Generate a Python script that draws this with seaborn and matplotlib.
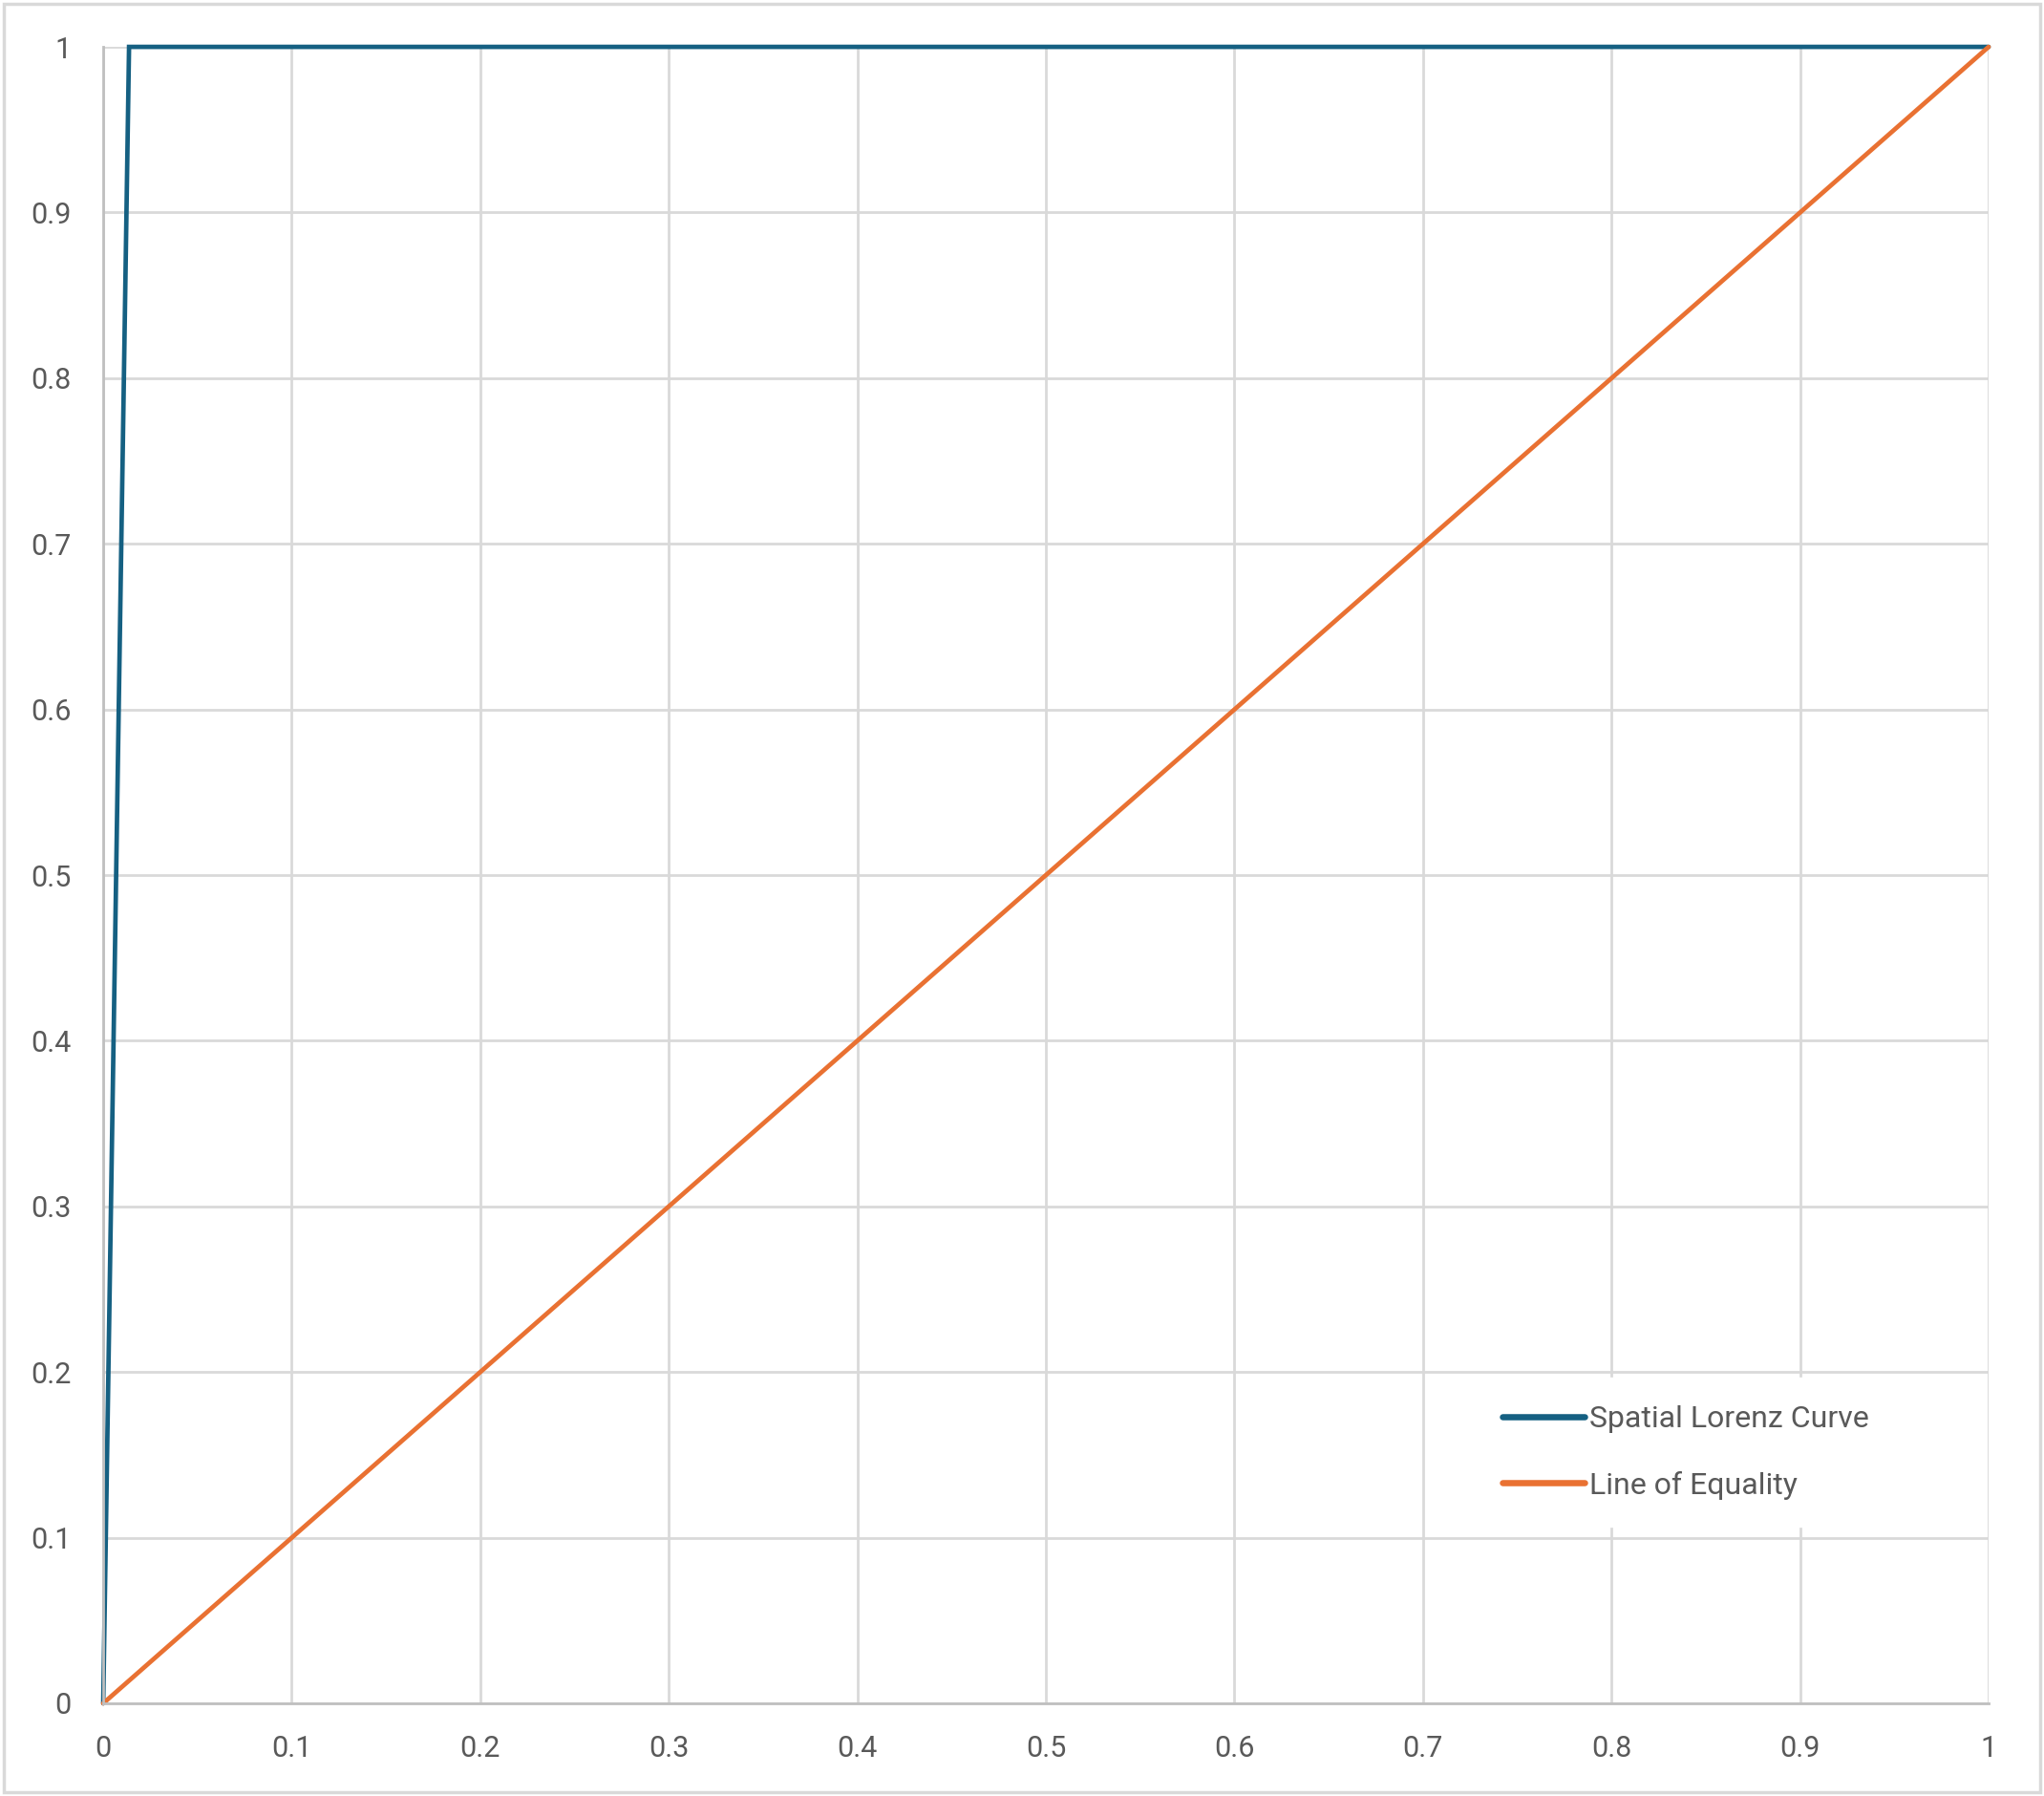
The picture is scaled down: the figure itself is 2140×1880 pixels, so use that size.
import pandas as pd
import matplotlib.pyplot as plt
import seaborn as sns
from matplotlib.patches import Rectangle

# data
lorenz_x = [0.0, 0.0137, 1.0]
lorenz_y = [0.0, 1.0, 1.0]
equality_x = [0.0, 0.1, 0.2, 0.3, 0.4, 0.5, 0.6, 0.7, 0.8, 0.9, 1.0]
equality_y = [0.0, 0.1, 0.2, 0.3, 0.4, 0.5, 0.6, 0.7, 0.8, 0.9, 1.0]
series_names = ['Spatial Lorenz Curve', 'Line of Equality']
series_colors = ['#156082', '#E97132']
tick_values = [0, 0.1, 0.2, 0.3, 0.4, 0.5, 0.6, 0.7, 0.8, 0.9, 1]
tick_labels = ['0', '0.1', '0.2', '0.3', '0.4', '0.5', '0.6', '0.7', '0.8', '0.9', '1']

df = pd.concat([
    pd.DataFrame({'x': lorenz_x, 'y': lorenz_y, 'series': series_names[0]}),
    pd.DataFrame({'x': equality_x, 'y': equality_y, 'series': series_names[1]}),
], ignore_index=True)

sns.set_style('white')
plt.rcParams['font.family'] = ['Roboto', 'DejaVu Sans']

fig = plt.figure(figsize=(21.4, 18.8), dpi=100)
ax = fig.add_axes([0.0505, 0.0516, 0.9224, 0.9223])

sns.lineplot(data=df, x='x', y='y', hue='series', palette=series_colors,
             estimator=None, sort=False, linewidth=3.4, ax=ax,
             solid_capstyle='round', solid_joinstyle='miter')
for line in ax.get_lines():
    line.set_clip_on(False)

ax.set_xlim(0, 1)
ax.set_ylim(0, 1)
ax.set_xticks(tick_values)
ax.set_xticklabels(tick_labels)
ax.set_yticks(tick_values)
ax.set_yticklabels(tick_labels)
ax.set_xlabel('')
ax.set_ylabel('')
ax.tick_params(axis='both', length=0, labelsize=22, labelcolor='#595959', pad=24)
ax.grid(True, color='#d9d9d9', linewidth=2)
ax.set_axisbelow(True)
for side in ['top', 'right']:
    ax.spines[side].set_visible(False)
for side in ['left', 'bottom']:
    ax.spines[side].set_color('#bfbfbf')
    ax.spines[side].set_linewidth(2)

handles, labels = ax.get_legend_handles_labels()
leg = ax.legend(handles, labels, loc='upper left', bbox_to_anchor=(0.7215, 0.2330),
                bbox_transform=fig.transFigure, frameon=True, framealpha=1,
                edgecolor='white', fancybox=False,
                handlelength=2.7, handletextpad=0.15, labelspacing=1.25,
                borderpad=0.9, borderaxespad=0,
                prop={'family': ['Liberation Sans Narrow', 'Roboto', 'DejaVu Sans'], 'size': 23})
for line in leg.get_lines():
    line.set_linewidth(4.7)
    line.set_solid_capstyle('round')
for txt in leg.get_texts():
    txt.set_color('#595959')

# light border around the whole chart
fig.patches.append(Rectangle((0.002, 0.002), 0.996, 0.996, transform=fig.transFigure,
                             fill=False, edgecolor='#d9d9d9', linewidth=2.5))

fig.savefig('out.png', dpi=100, facecolor='white')
